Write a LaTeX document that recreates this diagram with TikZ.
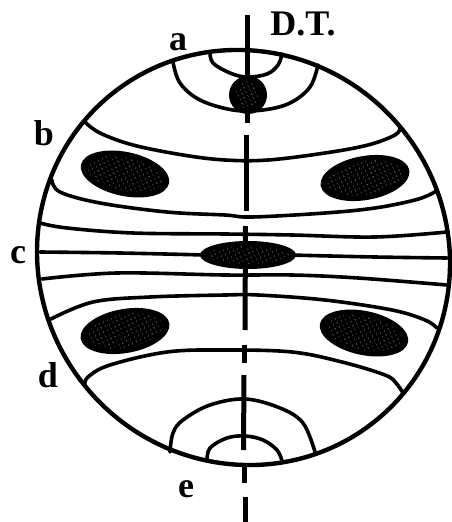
\documentclass[tikz,border=0pt]{standalone}
\usepackage{fontspec}
\setmainfont{Liberation Serif}
\usetikzlibrary{patterns.meta}
\tikzset{
  rim/.style={line width=4.4pt},
  band/.style={line width=3.6pt,line cap=round,line join=round},
  axisline/.style={line width=5pt},
  blob/.style={fill=black},
  speck/.style={pattern={Dots[radius=.6pt,distance=4pt,angle=25]},pattern color=white!65!black},
  lab/.style={font=\bfseries\fontsize{36}{36}\selectfont,anchor=base,inner sep=0pt}
}
\newcommand{\stipple}[5]{%
  \fill[blob,shift={(#1,#2)},rotate=#5] (0,0) ellipse [x radius=#3pt,y radius=#4pt];
  \fill[speck,shift={(#1,#2)},rotate=#5] (0,0) ellipse [x radius=#3pt-7pt,y radius=#4pt-5pt];
}
\begin{document}
\begin{tikzpicture}[x=1pt,y=-1pt]
\useasboundingbox (0,0) rectangle (451,522);
% outline
\draw[rim,shift={(243.5,257.5)},rotate=-50] (0,0) ellipse [x radius=210pt,y radius=204pt];
% axis
\draw[axisline] (247,15) -- (247,78);
\draw[axisline] (247,110) -- (247,123);
\draw[axisline] (246,135) -- (246,211);
\draw[axisline] (245.5,226) -- (245,330);
\draw[axisline] (244.5,345) -- (244.5,363);
\draw[axisline] (244,375) -- (243.5,450);
\draw[axisline] (244.5,467) -- (244.5,483);
\draw[axisline] (245,497) -- (245,522);
% a
\draw[band] plot[smooth,tension=.6] coordinates {(173,62)(180,83)(200,100)(233,110)(263,110)(290,103)(310,87)(318,65)};
\draw[band] plot[smooth,tension=.6] coordinates {(210,52)(213,63)(230,73)(247,77)(267,74)(278,65)(282,54)};
% b
\draw[band] plot[smooth,tension=.6] coordinates {(85,122)(100,133)(133,145)(183,155)(225,160)(268,160)(325,153)(368,145)(395,135)(400,128)};
\draw[band] plot[smooth,tension=.6] coordinates {(52,180)(60,192)(100,203)(167,212)(225,215)(252,217)(325,213)(375,208)(415,200)(433,193)(436,190)};
% c
\draw[band] plot[smooth,tension=.6] coordinates {(40,223)(67,228)(133,233)(225,234)(292,235)(375,237)(447,232)};
\draw[band] plot[smooth,tension=.6] coordinates {(40,252)(120,253)(205,255)};
\draw[band] plot[smooth,tension=.6] coordinates {(290,255)(375,257)(447,258)};
\draw[band] plot[smooth,tension=.6] coordinates {(42,279)(117,273)(225,275)(292,275)(358,278)(447,285)};
% d
\draw[band] plot[smooth,tension=.6] coordinates {(51,319)(93,302)(150,297)(225,295)(258,295)(325,300)(392,310)(425,320)(437,328)};
\draw[band] plot[smooth,tension=.6] coordinates {(85,385)(88,377)(110,365)(167,352)(225,350)(292,352)(342,362)(385,375)(396,383)(403,393)};
% e
\draw[band] plot[smooth,tension=.6] coordinates {(170,452)(173,433)(183,420)(210,405)(245,399)(280,408)(303,423)(315,452)};
\draw[band] plot[smooth,tension=.6] coordinates {(207,461)(210,448)(227,438)(245,436)(263,440)(277,450)(282,461)};
% blobs
\stipple{248}{95}{19}{19}{0}
\stipple{125}{174}{45}{22}{-12}
\stipple{365}{178}{45}{22}{10}
\stipple{248}{255}{48}{14}{0}
\stipple{125}{331}{45}{22}{10}
\stipple{364}{333}{45}{22}{-12}
% labels
\node[lab] (lblDT) at (303,35) {D.T.};
\node[lab] (lbla) at (178,50) {a};
\node[lab] (lblb) at (44,145) {b};
\node[lab] (lblc) at (18,263) {c};
\node[lab] (lbld) at (48,387) {d};
\node[lab] (lble) at (186,497) {e};
\end{tikzpicture}
\end{document}
